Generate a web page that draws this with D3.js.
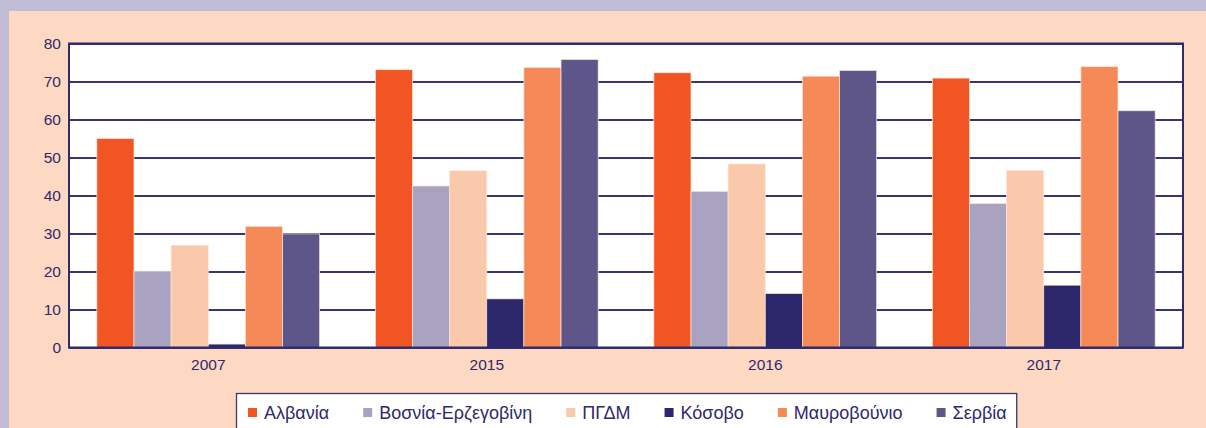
<!DOCTYPE html>
<html><head><meta charset="utf-8">
<script src="https://cdn.jsdelivr.net/npm/d3@7"></script>
<style>
html,body{margin:0;padding:0;background:#c1bcd5;}
svg{display:block;font-family:"Liberation Sans",Arial,sans-serif;}
</style></head>
<body>
<svg id="c" width="1206" height="428"></svg>
<script>
const years = ["2007","2015","2016","2017"];
const countries = ["Αλβανία","Βοσνία-Ερζεγοβίνη","ΠΓΔΜ","Κόσοβο","Μαυροβούνιο","Σερβία"];
const albania    = [55, 73.1, 72.3, 70.9];
const bosnia     = [20.1, 42.5, 41.1, 37.9];
const fyrom      = [26.9, 46.5, 48.3, 46.6];
const kosovo     = [0.9, 12.8, 14.2, 16.4];
const montenegro = [31.9, 73.7, 71.4, 73.9];
const serbia     = [29.9, 75.8, 72.9, 62.3];
const yTicks = [0,10,20,30,40,50,60,70,80];
const colors = ["#f05523","#a9a3c1","#fac8ab","#2c266b","#f58a58","#5e5689"];

const series = [albania, bosnia, fyrom, kosovo, montenegro, serbia];
const svg = d3.select("#c");
const W = 1206, H = 428;
const navy = "#2e2a6b";

// frame
svg.append("rect").attr("x",0).attr("y",0).attr("width",W).attr("height",H).attr("fill","#c1bcd5");
svg.append("rect").attr("x",9).attr("y",11).attr("width",W-9).attr("height",H-11).attr("fill","#fdd9c3");

const m = {l:69, r:1183, t:43.5, b:347.5};
const x0 = d3.scaleBand().domain(years).range([m.l, m.r]).paddingInner(0.2).paddingOuter(0.1);
const x1 = d3.scaleBand().domain(countries).range([0, x0.bandwidth()]);
const y = d3.scaleLinear().domain([0,80]).range([m.b, m.t]);

svg.append("rect").attr("x",m.l).attr("y",m.t).attr("width",m.r-m.l).attr("height",m.b-m.t).attr("fill","#fff");

// gridlines
const yAxis = d3.axisLeft(y).tickValues(yTicks).tickSize(-(m.r-m.l)).tickPadding(8);
const gy = svg.append("g").attr("transform",`translate(${m.l},0)`).call(yAxis);
gy.select(".domain").remove();
gy.selectAll(".tick line").attr("stroke",navy).attr("stroke-width",2).attr("stroke-opacity",0.95);
gy.selectAll(".tick text").attr("fill",navy).attr("font-size","15.5px").attr("font-family","Liberation Sans, Arial, sans-serif");

// bars
const rows = years.map((yr,i)=>({yr, vals: countries.map((c,j)=>({c, v: series[j][i], col: colors[j]}))}));
const g = svg.append("g");
g.selectAll("g.grp").data(rows).join("g").attr("class","grp")
  .attr("transform",d=>`translate(${x0(d.yr)},0)`)
  .selectAll("rect").data(d=>d.vals).join("rect")
  .attr("x",d=>x1(d.c)).attr("width",x1.bandwidth())
  .attr("y",d=>y(d.v)).attr("height",d=>y(0)-y(d.v))
  .attr("fill",d=>d.col).attr("stroke","#fde6d8").attr("stroke-width",0.7);

// plot border
svg.append("rect").attr("x",m.l).attr("y",m.t).attr("width",m.r-m.l).attr("height",m.b-m.t)
  .attr("fill","none").attr("stroke",navy).attr("stroke-width",2);

// x axis labels
const xAxis = d3.axisBottom(x0).tickSize(0).tickPadding(11);
const gx = svg.append("g").attr("transform",`translate(0,${m.b})`).call(xAxis);
gx.select(".domain").remove();
gx.selectAll(".tick text").attr("fill",navy).attr("font-size","15.5px").attr("font-family","Liberation Sans, Arial, sans-serif");

// legend
const leg = svg.append("g");
const box = leg.append("rect").attr("x",236.5).attr("y",393.5).attr("height",50).attr("fill","#fff")
  .attr("stroke","#3a3570").attr("stroke-width",1.3);
let cx = 248;
countries.forEach((c,i)=>{
  leg.append("rect").attr("x",cx).attr("y",408).attr("width",9).attr("height",9).attr("fill",colors[i]);
  const t = leg.append("text").attr("x",cx+16).attr("y",418.5).attr("fill",navy)
    .attr("font-size","18px").text(c);
  cx += 16 + t.node().getComputedTextLength() + 34;
});
box.attr("width", cx - 34 + 10 - 236.5);
</script>
</body></html>
